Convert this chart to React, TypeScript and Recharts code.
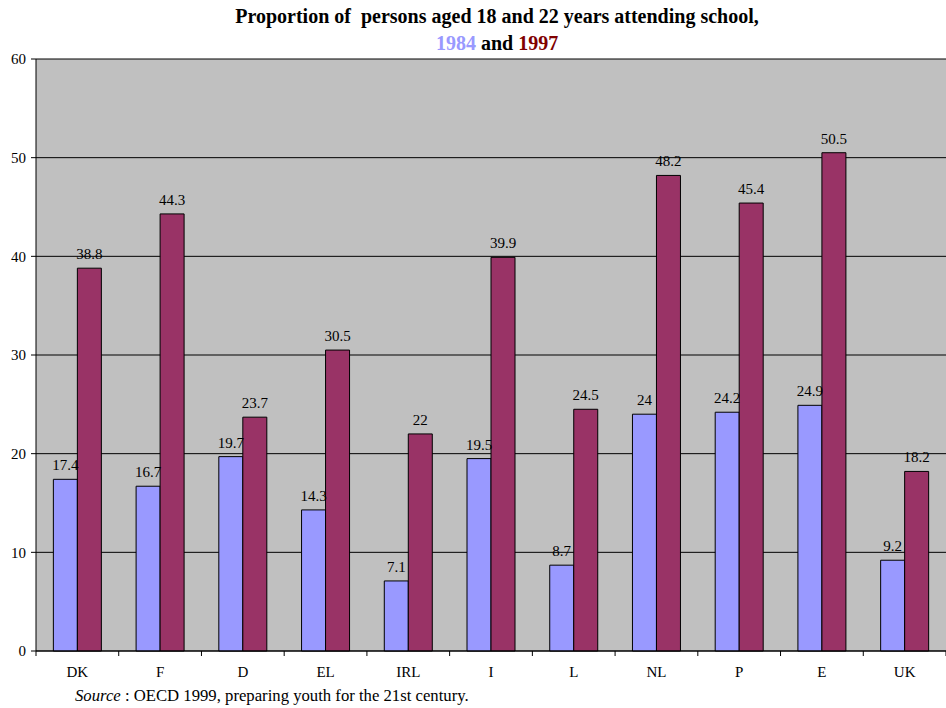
import React from 'react';
import { BarChart, Bar, XAxis, YAxis, CartesianGrid, LabelList } from 'recharts';

const countries = ['DK', 'F', 'D', 'EL', 'IRL', 'I', 'L', 'NL', 'P', 'E', 'UK'];
const values1984 = [17.4, 16.7, 19.7, 14.3, 7.1, 19.5, 8.7, 24, 24.2, 24.9, 9.2];
const values1997 = [38.8, 44.3, 23.7, 30.5, 22, 39.9, 24.5, 48.2, 45.4, 50.5, 18.2];
const yTicks = [0, 10, 20, 30, 40, 50, 60];

const data = countries.map((c, i) => ({ country: c, y1984: values1984[i], y1997: values1997[i] }));

const FONT = '"Liberation Serif", "Times New Roman", serif';
const BLUE = '#9999FF';
const PLUM = '#993366';

const titleStyle: React.CSSProperties = {
  position: 'absolute',
  left: 0,
  width: 994,
  textAlign: 'center',
  fontWeight: 'bold',
  fontSize: 20,
  lineHeight: '24px',
  color: '#000',
  whiteSpace: 'nowrap',
};

// Category label centred under the group, with the tick mark on the boundary
// between groups (half a band to the left).
const CountryTick = (props: any) => {
  const { x, y, payload, index, visibleTicksCount } = props;
  const half = payload.offset || 0;
  const last = index === visibleTicksCount - 1;
  return (
    <g>
      <line x1={x - half} x2={x - half} y1={y - 5} y2={y} stroke="#000" />
      {last && <line x1={x + half} x2={x + half} y1={y - 5} y2={y} stroke="#000" />}
      <text x={x} y={y + 21} textAnchor="middle" fill="#000" fontSize={15} fontFamily={FONT}>
        {payload.value}
      </text>
    </g>
  );
};

export default function App() {
  return (
    <div style={{ position: 'absolute', top: 0, left: 0, width: 946, height: 708, background: '#fff', fontFamily: FONT }}>
      <div style={{ ...titleStyle, top: 4 }}>
        Proportion of&nbsp; persons aged 18 and 22 years attending school,
      </div>
      <div style={{ ...titleStyle, top: 31 }}>
        <span style={{ color: BLUE }}>1984</span> and <span style={{ color: '#800000' }}>1997</span>
      </div>
      <BarChart
        width={946}
        height={708}
        data={data}
        margin={{ top: 59, right: 0, left: 0, bottom: 0 }}
        barCategoryGap="21%"
        barGap={0}
        style={{ fontFamily: FONT }}
      >
        <CartesianGrid vertical={false} stroke="#000" fill="#C0C0C0" />
        <XAxis
          dataKey="country"
          height={57}
          axisLine={{ stroke: '#000' }}
          tickLine={false}
          tickSize={5}
          tickMargin={0}
          interval={0}
          tick={<CountryTick />}
        />
        <YAxis
          domain={[0, 60]}
          ticks={yTicks}
          width={36}
          axisLine={{ stroke: '#000' }}
          tickLine={{ stroke: '#000' }}
          tickSize={5}
          tick={{ fill: '#000', fontSize: 15, fontFamily: FONT }}
          tickMargin={5}
        />
        <Bar dataKey="y1984" fill={BLUE} stroke="#000" strokeWidth={1} isAnimationActive={false}>
          <LabelList dataKey="y1984" position="top" offset={9} fill="#000" fontSize={15} fontFamily={FONT} />
        </Bar>
        <Bar dataKey="y1997" fill={PLUM} stroke="#000" strokeWidth={1} isAnimationActive={false}>
          <LabelList dataKey="y1997" position="top" offset={9} fill="#000" fontSize={15} fontFamily={FONT} />
        </Bar>
      </BarChart>
      <div style={{ position: 'absolute', top: 686, left: 75, fontSize: 16.7, color: '#000' }}>
        <i>Source</i> : OECD 1999, preparing youth for the 21st century.
      </div>
    </div>
  );
}
